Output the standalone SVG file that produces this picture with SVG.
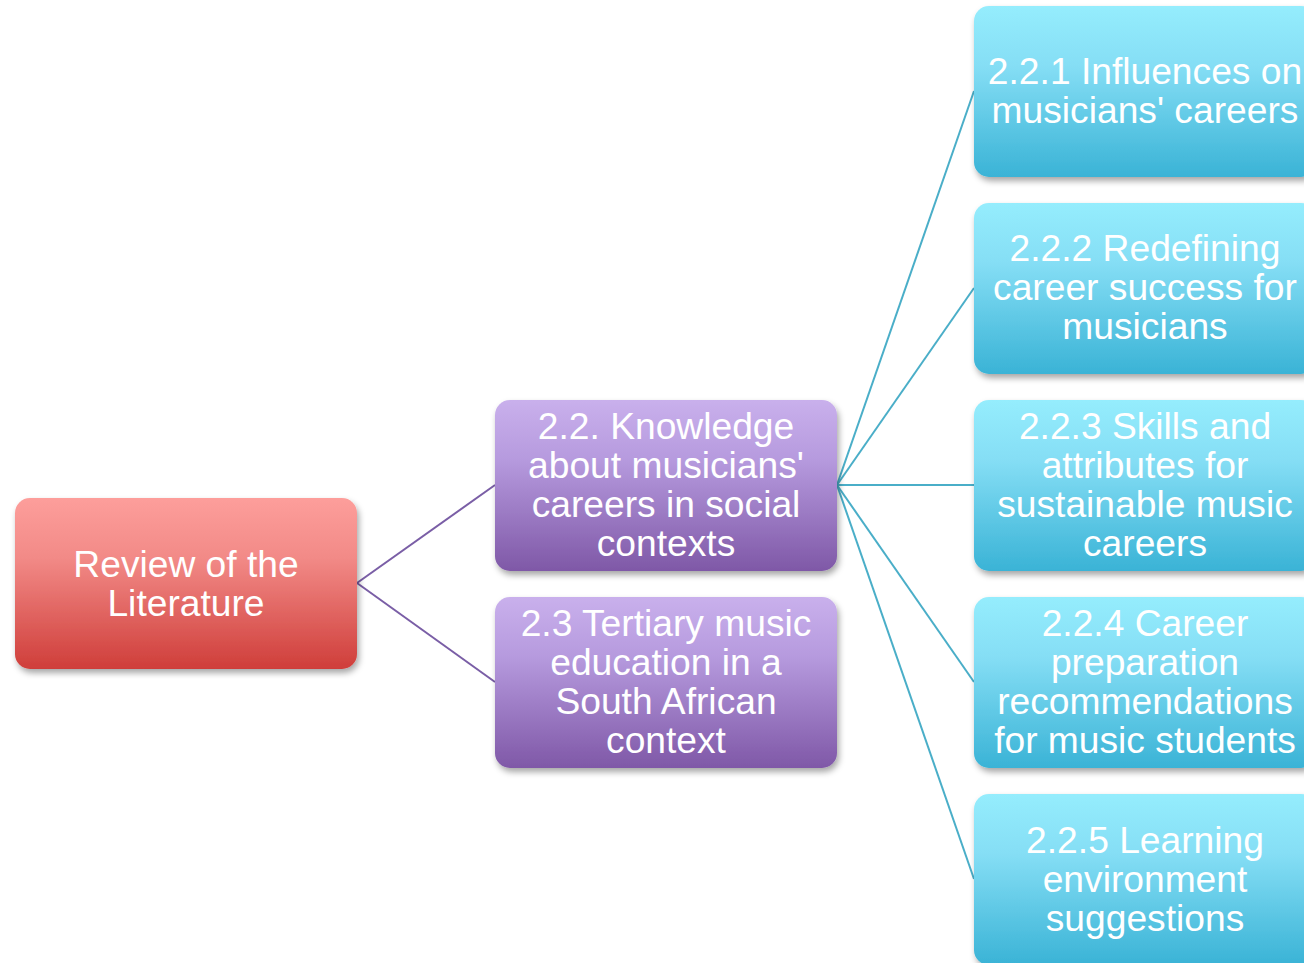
<svg xmlns="http://www.w3.org/2000/svg" width="1304" height="963" viewBox="0 0 1304 963">
  <defs>
    <linearGradient id="gRed" x1="0" y1="0" x2="0" y2="1">
      <stop offset="0" stop-color="#fd9e9b"/>
      <stop offset="0.35" stop-color="#f28a87"/>
      <stop offset="1" stop-color="#cf3e3a"/>
    </linearGradient>
    <linearGradient id="gPurple" x1="0" y1="0" x2="0" y2="1">
      <stop offset="0" stop-color="#c9b0ec"/>
      <stop offset="0.35" stop-color="#b69ade"/>
      <stop offset="1" stop-color="#7f58a7"/>
    </linearGradient>
    <linearGradient id="gCyan" x1="0" y1="0" x2="0" y2="1">
      <stop offset="0" stop-color="#95edfd"/>
      <stop offset="0.35" stop-color="#85def5"/>
      <stop offset="1" stop-color="#3ab3d6"/>
    </linearGradient>
    <filter id="shadow" x="-10%" y="-10%" width="125%" height="130%">
      <feDropShadow dx="2" dy="4" stdDeviation="3" flood-color="#000" flood-opacity="0.35"/>
    </filter>
  </defs>
  <style>
    .box { filter: url(#shadow); }
    .label { font-family: "Liberation Sans", Arial, sans-serif; font-size: 37.2px; fill: #ffffff; text-anchor: middle; }
    .link-p { stroke: #7a5ea6; stroke-width: 2; fill: none; }
    .link-c { stroke: #4aaec8; stroke-width: 2; fill: none; }
  </style>
  <rect width="1304" height="963" fill="#ffffff"/>

  <!-- connectors -->
  <g id="connectors">
    <line class="link-p" x1="357" y1="583" x2="495" y2="485"/>
    <line class="link-p" x1="357" y1="583" x2="495" y2="682"/>
    <line class="link-c" x1="837" y1="485" x2="974" y2="91"/>
    <line class="link-c" x1="837" y1="485" x2="974" y2="288"/>
    <line class="link-c" x1="837" y1="485" x2="974" y2="485"/>
    <line class="link-c" x1="837" y1="485" x2="974" y2="682"/>
    <line class="link-c" x1="837" y1="485" x2="974" y2="879"/>
  </g>

  <!-- root -->
  <g id="review">
    <rect class="box" x="15" y="498" width="342" height="171" rx="15" fill="url(#gRed)"/>
    <text class="label"><tspan x="186" y="577">Review of the</tspan><tspan x="186" y="616">Literature</tspan></text>
  </g>

  <!-- level 2 -->
  <g id="n22">
    <rect class="box" x="495" y="400" width="342" height="171" rx="15" fill="url(#gPurple)"/>
    <text class="label"><tspan x="666" y="439">2.2. Knowledge</tspan><tspan x="666" y="478">about musicians'</tspan><tspan x="666" y="517">careers in social</tspan><tspan x="666" y="556">contexts</tspan></text>
  </g>
  <g id="n23">
    <rect class="box" x="495" y="597" width="342" height="171" rx="15" fill="url(#gPurple)"/>
    <text class="label"><tspan x="666" y="636">2.3 Tertiary music</tspan><tspan x="666" y="675">education in a</tspan><tspan x="666" y="714">South African</tspan><tspan x="666" y="753">context</tspan></text>
  </g>

  <!-- level 3 -->
  <g id="n221">
    <rect class="box" x="974" y="6" width="342" height="171" rx="15" fill="url(#gCyan)"/>
    <text class="label"><tspan x="1145" y="84">2.2.1 Influences on</tspan><tspan x="1145" y="123">musicians' careers</tspan></text>
  </g>
  <g id="n222">
    <rect class="box" x="974" y="203" width="342" height="171" rx="15" fill="url(#gCyan)"/>
    <text class="label"><tspan x="1145" y="261">2.2.2 Redefining</tspan><tspan x="1145" y="300">career success for</tspan><tspan x="1145" y="339">musicians</tspan></text>
  </g>
  <g id="n223">
    <rect class="box" x="974" y="400" width="342" height="171" rx="15" fill="url(#gCyan)"/>
    <text class="label"><tspan x="1145" y="439">2.2.3 Skills and</tspan><tspan x="1145" y="478">attributes for</tspan><tspan x="1145" y="517">sustainable music</tspan><tspan x="1145" y="556">careers</tspan></text>
  </g>
  <g id="n224">
    <rect class="box" x="974" y="597" width="342" height="171" rx="15" fill="url(#gCyan)"/>
    <text class="label"><tspan x="1145" y="636">2.2.4 Career</tspan><tspan x="1145" y="675">preparation</tspan><tspan x="1145" y="714">recommendations</tspan><tspan x="1145" y="753">for music students</tspan></text>
  </g>
  <g id="n225">
    <rect class="box" x="974" y="794" width="342" height="171" rx="15" fill="url(#gCyan)"/>
    <text class="label"><tspan x="1145" y="853">2.2.5 Learning</tspan><tspan x="1145" y="892">environment</tspan><tspan x="1145" y="931">suggestions</tspan></text>
  </g>
</svg>
